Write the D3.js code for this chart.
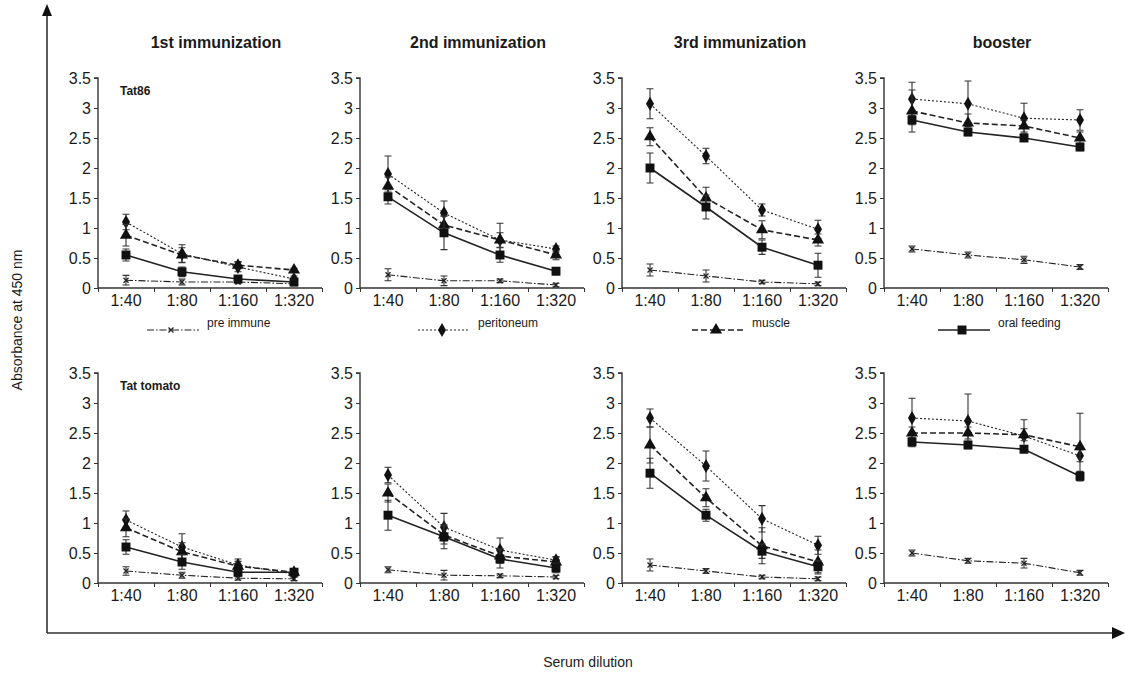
<!DOCTYPE html>
<html>
<head>
<meta charset="utf-8">
<script src="https://cdn.jsdelivr.net/npm/d3@7"></script>
<style>
  body { margin: 0; background: #fff; }
  text { font-family: "Liberation Sans", Arial, sans-serif; fill: #1a1a1a; }
  .narrow { font-family: "Liberation Sans Narrow", "Liberation Sans", Arial, sans-serif; }
</style>
</head>
<body>
<div class="figure"></div>
<script>

// ---- data ----
var dilutions = ["1:40", "1:80", "1:160", "1:320"];
var stages = ["1st immunization", "2nd immunization", "3rd immunization", "booster"];
var antigens = ["Tat86", "Tat tomato"];
var seriesNames = ["pre immune", "peritoneum", "muscle", "oral feeding"];
var yTicks = [0, 0.5, 1, 1.5, 2, 2.5, 3, 3.5];

// one row per stage, one value per dilution
var tat86PreImmune = [[0.13, 0.10, 0.10, 0.07], [0.22, 0.12, 0.12, 0.05], [0.30, 0.20, 0.10, 0.07], [0.65, 0.55, 0.47, 0.35]];
var tat86Peritoneum = [[1.10, 0.57, 0.35, 0.15], [1.90, 1.25, 0.80, 0.65], [3.07, 2.20, 1.30, 0.98], [3.15, 3.07, 2.83, 2.80]];
var tat86Muscle = [[0.88, 0.55, 0.38, 0.30], [1.70, 1.05, 0.80, 0.55], [2.52, 1.50, 0.97, 0.80], [2.95, 2.75, 2.70, 2.50]];
var tat86Oral = [[0.55, 0.27, 0.15, 0.10], [1.52, 0.92, 0.55, 0.28], [2.00, 1.35, 0.68, 0.38], [2.80, 2.60, 2.50, 2.35]];

var tomatoPreImmune = [[0.20, 0.13, 0.08, 0.07], [0.22, 0.13, 0.12, 0.10], [0.30, 0.20, 0.10, 0.07], [0.50, 0.37, 0.33, 0.17]];
var tomatoPeritoneum = [[1.05, 0.60, 0.30, 0.15], [1.80, 0.93, 0.55, 0.38], [2.75, 1.95, 1.07, 0.63], [2.75, 2.70, 2.45, 2.12]];
var tomatoMuscle = [[0.92, 0.52, 0.28, 0.18], [1.50, 0.80, 0.45, 0.35], [2.30, 1.42, 0.62, 0.35], [2.50, 2.50, 2.47, 2.27]];
var tomatoOral = [[0.60, 0.35, 0.18, 0.18], [1.13, 0.77, 0.40, 0.25], [1.83, 1.13, 0.53, 0.27], [2.35, 2.30, 2.23, 1.78]];

// error bars (same layout)
var tat86PreImmuneErr = [[0.08, 0.05, 0.03, 0.03], [0.10, 0.08, 0.03, 0.03], [0.10, 0.10, 0.03, 0.03], [0.05, 0.05, 0.06, 0.04]];
var tat86PeritoneumErr = [[0.13, 0.15, 0.08, 0.05], [0.30, 0.20, 0.28, 0.05], [0.25, 0.13, 0.10, 0.15], [0.28, 0.38, 0.25, 0.17]];
var tat86MuscleErr = [[0.18, 0.12, 0.06, 0.03], [0.15, 0.15, 0.12, 0.08], [0.15, 0.18, 0.15, 0.10], [0.35, 0.15, 0.10, 0.10]];
var tat86OralErr = [[0.10, 0.08, 0.05, 0.04], [0.12, 0.28, 0.12, 0.06], [0.25, 0.20, 0.12, 0.20], [0.08, 0.06, 0.05, 0.06]];

var tomatoPreImmuneErr = [[0.07, 0.05, 0.03, 0.03], [0.05, 0.08, 0.03, 0.03], [0.10, 0.04, 0.03, 0.03], [0.05, 0.04, 0.08, 0.04]];
var tomatoPeritoneumErr = [[0.15, 0.22, 0.10, 0.05], [0.13, 0.23, 0.20, 0.06], [0.15, 0.25, 0.22, 0.15], [0.33, 0.45, 0.27, 0.10]];
var tomatoMuscleErr = [[0.15, 0.15, 0.08, 0.05], [0.15, 0.15, 0.12, 0.08], [0.30, 0.15, 0.30, 0.20], [0.10, 0.10, 0.10, 0.56]];
var tomatoOralErr = [[0.12, 0.12, 0.06, 0.05], [0.25, 0.20, 0.15, 0.08], [0.25, 0.10, 0.12, 0.10], [0.08, 0.06, 0.06, 0.08]];

var rows = [
  [tat86PreImmune, tat86Peritoneum, tat86Muscle, tat86Oral],
  [tomatoPreImmune, tomatoPeritoneum, tomatoMuscle, tomatoOral]
];
var rowErrs = [
  [tat86PreImmuneErr, tat86PeritoneumErr, tat86MuscleErr, tat86OralErr],
  [tomatoPreImmuneErr, tomatoPeritoneumErr, tomatoMuscleErr, tomatoOralErr]
];

// ---- layout ----
var svgWidth = 1125;
var svgHeight = 674;
var panelW = 224;
var panelH = 210;
var panelLeft = [98, 360, 622, 884];
var panelTop = [78, 373];

var lineStyle = [
  { dash: "7,2,1.5,2", width: 1.1, symbol: "x" },
  { dash: "2,2", width: 1.1, symbol: d3.symbolDiamond },
  { dash: "6,3", width: 1.6, symbol: d3.symbolTriangle },
  { dash: null, width: 1.6, symbol: d3.symbolSquare }
];

var svg = d3.select(".figure")
  .append("svg")
  .attr("width", svgWidth)
  .attr("height", svgHeight);

var x = d3.scaleBand().domain(dilutions).range([0, panelW]);
var xEdges = d3.scaleLinear().domain([0, 4]).range([0, panelW]);
var y = d3.scaleLinear().domain([0, 3.5]).range([panelH, 0]);

function drawMarker(g, style, cx, cy) {
  if (style.symbol === "x") {
    g.append("path")
      .attr("d", "M" + (cx - 2.5) + "," + (cy - 2.5) + "L" + (cx + 2.5) + "," + (cy + 2.5) +
        "M" + (cx - 2.5) + "," + (cy + 2.5) + "L" + (cx + 2.5) + "," + (cy - 2.5))
      .attr("stroke", "#222").attr("stroke-width", 1.3).attr("fill", "none");
  } else {
    var size = style.symbol === d3.symbolSquare ? 80 : (style.symbol === d3.symbolTriangle ? 64 : 56);
    g.append("path")
      .attr("d", d3.symbol().type(style.symbol).size(size)())
      .attr("transform", "translate(" + cx + "," + cy + ")")
      .attr("fill", "#111");
  }
}

rows.forEach(function (rowData, r) {
  stages.forEach(function (stage, s) {
    var g = svg.append("g")
      .attr("transform", "translate(" + panelLeft[s] + "," + panelTop[r] + ")");

    // y axis
    g.append("g")
      .call(d3.axisLeft(y).tickValues(yTicks).tickSize(4).tickFormat(d3.format("")))
      .call(function (a) {
        a.select(".domain").attr("stroke", "#333").attr("stroke-width", 1.4).attr("d", "M-4,0H0V" + panelH);
        a.selectAll(".tick line").attr("stroke", "#333");
        a.selectAll(".tick text").attr("font-size", 16).attr("x", -7).style("font-family", "Liberation Sans, Arial, sans-serif").style("fill", "#1a1a1a");
      });

    // x axis: tick marks between categories
    g.append("g")
      .attr("transform", "translate(0," + panelH + ")")
      .call(d3.axisBottom(xEdges).tickValues([0, 1, 2, 3, 4]).tickSize(4).tickFormat(""))
      .call(function (a) {
        a.select(".domain").attr("stroke", "#333").attr("stroke-width", 1.4).attr("d", "M0,0H" + panelW);
        a.selectAll(".tick line").attr("stroke", "#333");
      });

    g.append("g")
      .attr("transform", "translate(0," + panelH + ")")
      .call(d3.axisBottom(x).tickSize(0).tickPadding(7))
      .call(function (a) {
        a.select(".domain").remove();
        a.selectAll(".tick text").attr("font-size", 16).style("font-family", "Liberation Sans, Arial, sans-serif").style("fill", "#1a1a1a");
      });

    if (s === 0) {
      g.append("text")
        .attr("x", 22)
        .attr("y", 17)
        .attr("font-size", 12)
        .attr("font-weight", "bold")
        .text(antigens[r]);
    }

    var line = d3.line()
      .x(function (d, i) { return x(dilutions[i]) + x.bandwidth() / 2; })
      .y(function (d) { return y(d); });

    rowData.forEach(function (series, k) {
      var vals = series[s];
      var errs = rowErrs[r][k][s];
      var style = lineStyle[k];

      // error bars
      vals.forEach(function (v, i) {
        var cx = x(dilutions[i]) + x.bandwidth() / 2;
        var y1 = y(v + errs[i]);
        var y0 = y(Math.max(0, v - errs[i]));
        g.append("path")
          .attr("d", "M" + cx + "," + y0 + "V" + y1 + "M" + (cx - 3.5) + "," + y1 + "H" + (cx + 3.5) +
            "M" + (cx - 3.5) + "," + y0 + "H" + (cx + 3.5))
          .attr("stroke", "#333")
          .attr("stroke-width", 1.1)
          .attr("fill", "none");
      });

      g.append("path")
        .datum(vals)
        .attr("d", line)
        .attr("fill", "none")
        .attr("stroke", "#222")
        .attr("stroke-width", style.width)
        .attr("stroke-dasharray", style.dash);

      vals.forEach(function (v, i) {
        drawMarker(g, style, x(dilutions[i]) + x.bandwidth() / 2, y(v));
      });
    });

    if (r === 0) {
      svg.append("text")
        .attr("x", panelLeft[s] + panelW / 2 + 6)
        .attr("y", 48)
        .attr("text-anchor", "middle")
        .attr("font-size", 16)
        .attr("font-weight", "bold")
        .text(stage);
    }
  });
});

// legend
var legendX = [147, 418, 692, 938];
var legendY = 330;
seriesNames.forEach(function (name, k) {
  var g = svg.append("g").attr("transform", "translate(" + legendX[k] + "," + legendY + ")");
  var style = lineStyle[k];
  g.append("line")
    .attr("x1", 0).attr("x2", 52)
    .attr("y1", 0).attr("y2", 0)
    .attr("stroke", "#222")
    .attr("stroke-width", style.width)
    .attr("stroke-dasharray", style.dash);
  drawMarker(g, style, 24, 0);
  g.append("text")
    .attr("class", "narrow")
    .attr("x", 60)
    .attr("y", -3)
    .attr("font-size", 12)
    .text(name);
});

// outer axes with arrows
var outer = svg.append("g").attr("stroke", "#333").attr("stroke-width", 1.6);
outer.append("line").attr("x1", 47).attr("x2", 47).attr("y1", 14).attr("y2", 633);
outer.append("line").attr("x1", 47).attr("x2", 1114).attr("y1", 633).attr("y2", 633);
svg.append("path").attr("d", "M47,4L42,16L52,16Z").attr("fill", "#111");
svg.append("path").attr("d", "M1125,633L1112,627L1112,639Z").attr("fill", "#111");

svg.append("text")
  .attr("class", "narrow")
  .attr("transform", "translate(22," + 320 + ") rotate(-90)")
  .attr("text-anchor", "middle")
  .attr("font-size", 14)
  .text("Absorbance at 450 nm");

svg.append("text")
  .attr("class", "narrow")
  .attr("x", 588)
  .attr("y", 667)
  .attr("text-anchor", "middle")
  .attr("font-size", 14)
  .text("Serum dilution");

</script>
</body>
</html>
